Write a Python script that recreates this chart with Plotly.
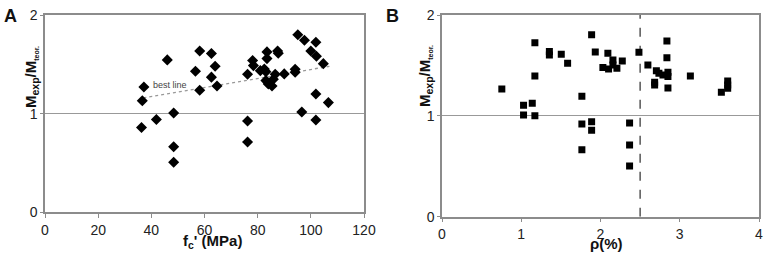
import plotly.graph_objects as go

# Panel A data: fc' (MPa) vs Mexp/Mteor
a_x = [37.2, 36.6, 36.3, 41.9, 46.0, 48.4, 48.4, 48.4, 56.6, 58.2, 58.2, 62.6, 62.6, 64.0, 64.7,
       76.2, 76.2, 76.2, 78.1, 78.4, 81.0, 82.5, 83.1, 83.5, 83.5, 83.1, 84.0, 85.4, 85.9, 86.6,
       87.5, 87.75, 90.0, 94.1, 94.1, 95.1, 97.6, 96.6, 101.9, 100.0, 102.1, 101.9, 101.9, 104.7, 106.6]
a_y = [1.27, 1.13, 0.86, 0.94, 1.545, 1.007, 0.665, 0.507, 1.43, 1.636, 1.237, 1.61, 1.37, 1.48, 1.28,
       1.40, 0.926, 0.713, 1.538, 1.487, 1.436, 1.453, 1.426, 1.626, 1.558, 1.335, 1.301, 1.281, 1.349, 1.40,
       1.636, 1.613, 1.403, 1.45, 1.42, 1.80, 1.744, 1.017, 1.724, 1.636, 1.582, 1.20, 0.936, 1.507, 1.112]
fit_x = [37.0, 107.0]
fit_y = [1.16, 1.48]

# Panel B data: rho (%) vs Mexp/Mteor
b_x = [0.755, 1.029, 1.029, 1.139, 1.172, 1.172, 1.172, 1.355, 1.355, 1.505, 1.585,
       1.765, 1.765, 1.888, 1.888, 1.765, 1.888, 1.934, 2.030, 2.093, 2.102, 2.157, 2.157, 2.207, 2.275,
       2.485, 2.367, 2.367, 2.367, 2.598, 2.705, 2.683, 2.683, 2.737, 2.788, 2.838, 2.838, 2.851, 2.851, 2.851,
       3.134, 3.525, 3.605, 3.605, 3.605]
b_y = [1.267, 1.105, 1.009, 1.125, 1.726, 1.396, 1.002, 1.637, 1.604, 1.611, 1.522,
       1.194, 0.920, 0.942, 0.857, 0.665, 1.803, 1.634, 1.480, 1.621, 1.465, 1.555, 1.505, 1.472, 1.545,
       1.631, 0.930, 0.711, 0.503, 1.505, 1.448, 1.333, 1.307, 1.423, 1.406, 1.743, 1.577, 1.433, 1.389, 1.277,
       1.396, 1.234, 1.346, 1.307, 1.274]
rho_limit = 2.5

a_ticks = [0, 20, 40, 60, 80, 100, 120]
b_ticks = [0, 1, 2, 3, 4]
y_ticks = [0, 1, 2]

FONT = "Liberation Sans, Arial, sans-serif"
AX = "#8c8c8c"

fig = go.Figure()
fig.add_trace(go.Scatter(x=fit_x, y=fit_y, mode="lines", xaxis="x", yaxis="y",
                         line=dict(color="#999999", width=1.3, dash="dot"), showlegend=False))
fig.add_trace(go.Scatter(x=a_x, y=a_y, mode="markers", xaxis="x", yaxis="y",
                         marker=dict(symbol="diamond", size=8.5, color="black"), showlegend=False))
fig.add_trace(go.Scatter(x=[rho_limit, rho_limit], y=[0, 2], mode="lines", xaxis="x2", yaxis="y2",
                         line=dict(color="#555555", width=1.5, dash="dash"), showlegend=False))
fig.add_trace(go.Scatter(x=b_x, y=b_y, mode="markers", xaxis="x2", yaxis="y2",
                         marker=dict(symbol="square", size=7, color="black"), showlegend=False))

def xax(domain, rng, ticks, anchor):
    return dict(domain=domain, range=rng, tickvals=ticks, showgrid=False, zeroline=False,
                showline=True, linecolor=AX, linewidth=1.5, mirror=True, automargin=False,
                ticks="outside", ticklen=4, tickcolor=AX, anchor=anchor,
                tickfont=dict(family=FONT, size=14, color="#222222"))

def yax(domain, anchor):
    return dict(domain=domain, range=[0, 2], tickvals=y_ticks, showgrid=True, gridcolor="#999999",
                gridwidth=1, zeroline=False, showline=True, linecolor=AX, linewidth=1.5, mirror=True,
                automargin=False, ticks="outside", ticklen=3, tickcolor=AX, anchor=anchor,
                tickfont=dict(family=FONT, size=14, color="#222222"))

fig.update_layout(
    width=765, height=254, margin=dict(l=0, r=0, t=0, b=0, autoexpand=False),
    paper_bgcolor="white", plot_bgcolor="white",
    xaxis=xax([45/765, 364/765], [0, 120], a_ticks, "y"),
    yaxis=yax([(254-212.3)/254, (254-15)/254], "x"),
    xaxis2=xax([442/765, 759/765], [0, 4], b_ticks, "y2"),
    yaxis2=yax([(254-216.7)/254, (254-15)/254], "x2"),
)

ytitle = "M<sub>exp</sub>/M<sub><span style='font-size:7px'>teor.</span></sub>"
ann = [
    dict(text="<b>A</b>", x=2/765, y=1-4/254, xanchor="left", yanchor="top", font=dict(size=18)),
    dict(text="<b>B</b>", x=384/765, y=1-4/254, xanchor="left", yanchor="top", font=dict(size=18)),
    dict(text="<b>" + ytitle + "</b>", x=31/765, y=1-77/254, textangle=-90, font=dict(size=15)),
    dict(text="<b>" + ytitle + "</b>", x=425/765, y=1-76/254, textangle=-90, font=dict(size=15)),
    dict(text="<b>f<sub>c</sub>' (MPa)</b>", x=212/765, y=1-241/254, font=dict(size=15)),
    dict(text="<b>ρ(%)</b>", x=606/765, y=1-243/254, font=dict(size=15)),
    dict(text="best line", x=151/765, y=1-85/254, xanchor="left", font=dict(size=9, color="#444444")),
]
for a in ann:
    a.update(xref="paper", yref="paper", showarrow=False)
    a.setdefault("xanchor", "center")
    a.setdefault("yanchor", "middle")
    a["font"].setdefault("family", FONT)
    a["font"].setdefault("color", "#111111")
fig.update_layout(annotations=ann)

fig.write_html("out.html", config={"displayModeBar": False},
               post_script="document.body.style.margin='0';")
